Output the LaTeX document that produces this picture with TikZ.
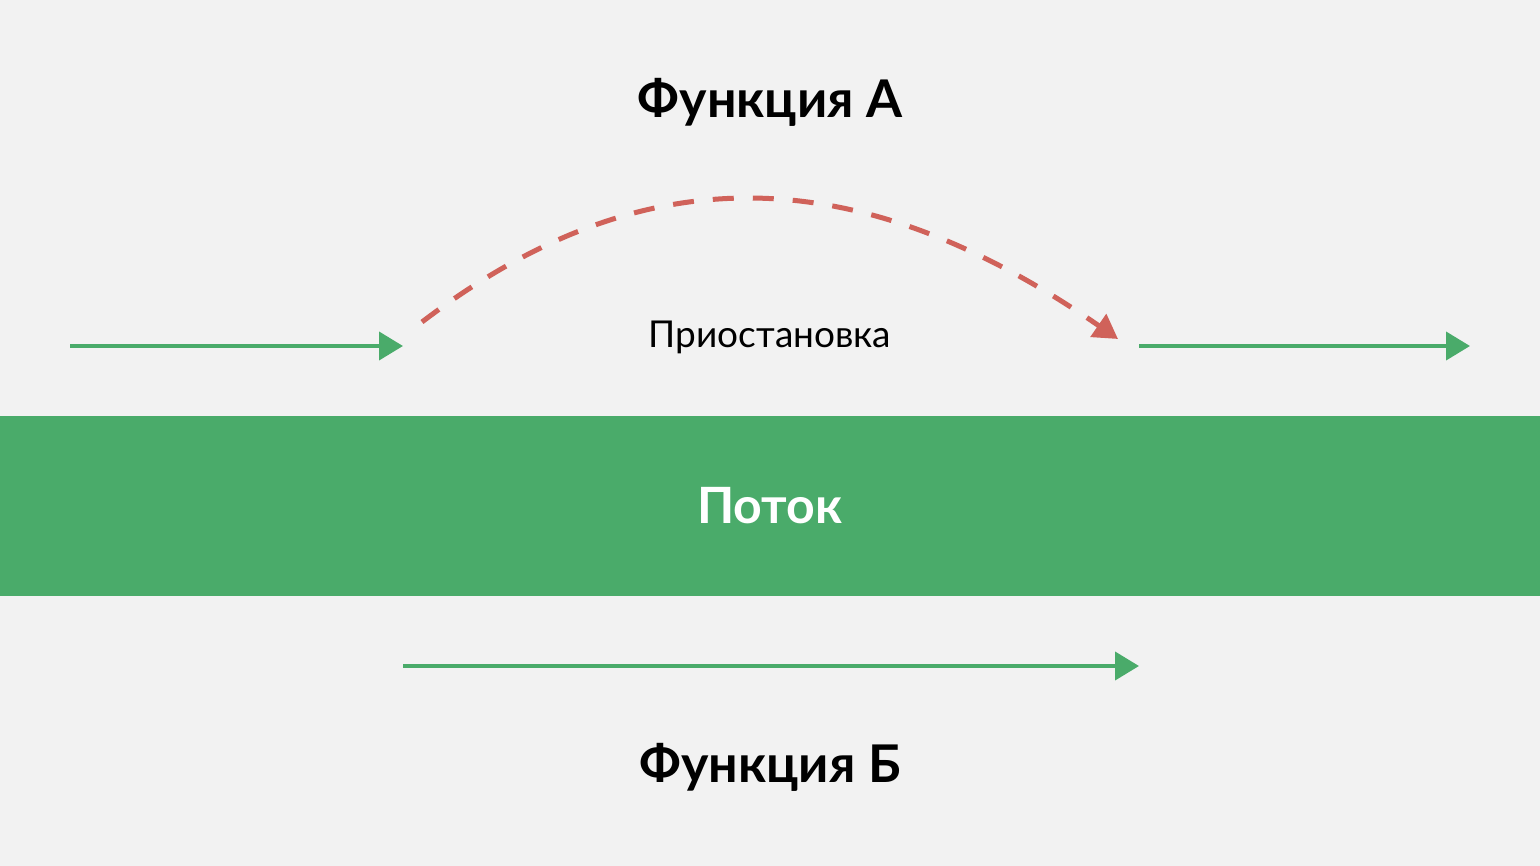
\documentclass[tikz,border=0pt]{standalone}
\usepackage{fontspec}
\setmainfont{Lato}
\usetikzlibrary{arrows.meta}
\definecolor{bg}{HTML}{F2F2F2}
\definecolor{grn}{HTML}{4AAB6A}
\definecolor{redc}{HTML}{D0625A}
\tikzset{
  garrow/.style={draw=grn, line width=4pt, -{Triangle[length=24pt,width=28pt]}},
  rarrow/.style={draw=redc, line width=5pt, dash pattern=on 21pt off 19pt, -{Triangle[length=24pt,width=27pt]}},
  title/.style={font=\fontsize{52}{60}\selectfont\bfseries, text=black},
}
\begin{document}
\begin{tikzpicture}[x=1pt,y=-1pt]
\fill[bg] (0,0) rectangle (1540,866);
\useasboundingbox (0,0) rectangle (1540,866);
\fill[grn] (0,416) rectangle (1540,596);
\node[title] (fa) at (770,102) {Функция А};
\node[title] (fb) at (770,767) {Функция Б};
\node[font=\fontsize{50}{58}\selectfont\bfseries, text=white] (flow) at (770,506) {Поток};
\node[font=\fontsize{37}{44}\selectfont, text=black] (pause) at (770,337) {Приостановка};
\coordinate (a1) at (70,346);
\coordinate (a2) at (403,346);
\coordinate (r1) at (422,322);
\coordinate (r2) at (1118,339);
\coordinate (b1) at (1139,346);
\coordinate (b2) at (1470,346);
\coordinate (c1) at (403,666);
\coordinate (c2) at (1139,666);
\draw[garrow] (a1) -- (a2);
\draw[garrow] (b1) -- (b2);
\draw[garrow] (c1) -- (c2);
\draw[rarrow] (r1) .. controls (640,156) and (853,156) .. (r2);
\end{tikzpicture}
\end{document}
